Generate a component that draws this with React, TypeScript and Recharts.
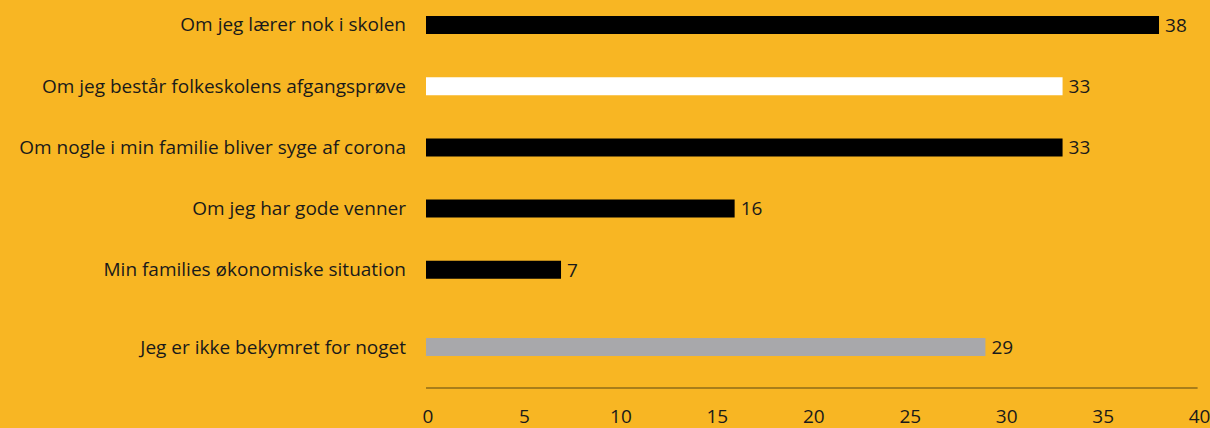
import { Bar, BarChart, Cell, LabelList, XAxis, YAxis } from 'recharts'

const worryLabels = [
  'Om jeg lærer nok i skolen',
  'Om jeg består folkeskolens afgangsprøve',
  'Om nogle i min familie bliver syge af corona',
  'Om jeg har gode venner',
  'Min families økonomiske situation',
]
const worryValues = [38, 33, 33, 16, 7]
const worryColors = ['#000000', '#ffffff', '#000000', '#000000', '#000000']

const noWorryLabels = ['Jeg er ikke bekymret for noget']
const noWorryValues = [29]
const noWorryColors = ['#a8a8ab']

const xTicks = [0, 5, 10, 15, 20, 25, 30, 35, 40]

const BG = '#f8b623'
const TEXT = '#1a1a1a'
const FONT = { fontFamily: 'Open Sans', fontSize: 19, fill: TEXT }
const CHART_W = 1210
const MARGIN = { top: 0, right: 12.4, bottom: 0, left: 0 }

const worryData = worryLabels.map((name, i) => ({ name, value: worryValues[i] }))
const noWorryData = noWorryLabels.map((name, i) => ({ name, value: noWorryValues[i] }))

function Rows({ data, colors, height, showAxis }: {
  data: { name: string; value: number }[]
  colors: string[]
  height: number
  showAxis: boolean
}) {
  return (
    <BarChart width={CHART_W} height={height} data={data} layout="vertical" margin={MARGIN}>
      <XAxis
        type="number"
        domain={[0, 40]}
        ticks={xTicks}
        hide={!showAxis}
        height={40}
        tickLine={false}
        tickSize={0}
        tickMargin={21.5}
        axisLine={{ stroke: '#5a4712', strokeWidth: 1 }}
        tick={{ ...FONT, dx: 2 }}
        interval={0}
      />
      <YAxis
        type="category"
        dataKey="name"
        width={426}
        axisLine={false}
        tickLine={false}
        tickSize={0}
        tickMargin={20}
        tick={FONT}
        interval={0}
      />
      <Bar dataKey="value" barSize={18} isAnimationActive={false}>
        {data.map((d, i) => (
          <Cell key={d.name} fill={colors[i]} />
        ))}
        <LabelList dataKey="value" position="right" offset={6} style={FONT} />
      </Bar>
    </BarChart>
  )
}

export default function App() {
  return (
    <div
      style={{
        position: 'absolute',
        left: 0,
        top: 0,
        width: CHART_W,
        height: 428,
        background: BG,
        overflow: 'hidden',
      }}
    >
      <div style={{ position: 'absolute', left: 0, top: -6.5 }}>
        <Rows data={worryData} colors={worryColors} height={306} showAxis={false} />
      </div>
      <div style={{ position: 'absolute', left: 0, top: 305.5 }}>
        <Rows data={noWorryData} colors={noWorryColors} height={122} showAxis />
      </div>
    </div>
  )
}
